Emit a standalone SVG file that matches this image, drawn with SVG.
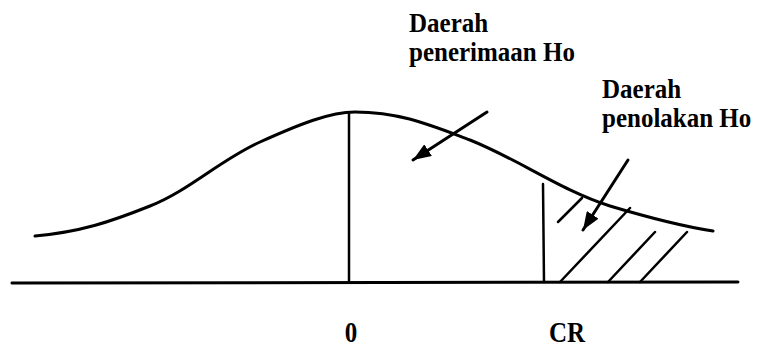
<svg xmlns="http://www.w3.org/2000/svg" width="757" height="352" viewBox="0 0 757 352">
  <style>
    .ln { fill: none; stroke: #000; stroke-linecap: round; }
    .lbl { font-family: 'Liberation Serif', 'Times New Roman', 'DejaVu Serif', serif; font-weight: 700; font-size: 25px; fill: #000; }
    .axl { font-size: 25px; text-anchor: middle; }
  </style>
  <defs>
    <marker id="ah" markerUnits="userSpaceOnUse" markerWidth="20" markerHeight="14" refX="18" refY="7" orient="auto">
      <path d="M0,0 L18,7 L0,14 z" fill="#000"/>
    </marker>
  </defs>
  <rect width="757" height="352" fill="#fff"/>
  <g id="axis">
    <line class="ln" x1="12" y1="283" x2="738" y2="282" stroke-width="3"/>
  </g>
  <g id="curve">
    <path class="ln" stroke-width="3" d="M35,236 C80,232 110,222 150,206 C190,190 220,160 260,142 C300,124 330,112 355,112 C400,112 430,125 470,140 C520,160 560,190 610,206 C650,218 680,226 713,231"/>
  </g>
  <g id="mean-line">
    <line class="ln" x1="349" y1="113" x2="349" y2="282" stroke-width="2.5"/>
  </g>
  <g id="cr-line">
    <line class="ln" x1="543" y1="184" x2="544" y2="282" stroke-width="2.5"/>
  </g>
  <g id="rejection-hatch">
    <line class="ln" x1="558" y1="222" x2="582" y2="198" stroke-width="2.5"/>
    <line class="ln" x1="560" y1="282" x2="630" y2="208" stroke-width="2.5"/>
    <line class="ln" x1="608" y1="282" x2="655" y2="232" stroke-width="2.5"/>
    <line class="ln" x1="640" y1="282" x2="687" y2="232" stroke-width="2.5"/>
  </g>
  <g id="label-accept">
    <text class="lbl" transform="translate(409,32) scale(1,1.12)">Daerah</text>
    <text class="lbl" transform="translate(409,61) scale(1,1.12)">penerimaan Ho</text>
  </g>
  <g id="label-reject">
    <text class="lbl" transform="translate(602,98) scale(1,1.12)">Daerah</text>
    <text class="lbl" transform="translate(602,127) scale(1,1.12)">penolakan Ho</text>
  </g>
  <g id="label-0">
    <text class="lbl axl" transform="translate(351,342) scale(1,1.2)">0</text>
  </g>
  <g id="label-CR">
    <text class="lbl axl" transform="translate(567,342) scale(1,1.2)">CR</text>
  </g>
  <g id="connectors">
    <line class="ln" x1="487" y1="112" x2="413" y2="160" stroke-width="3" marker-end="url(#ah)"/>
    <line class="ln" x1="628" y1="160" x2="583" y2="230" stroke-width="3" marker-end="url(#ah)"/>
  </g>
</svg>
